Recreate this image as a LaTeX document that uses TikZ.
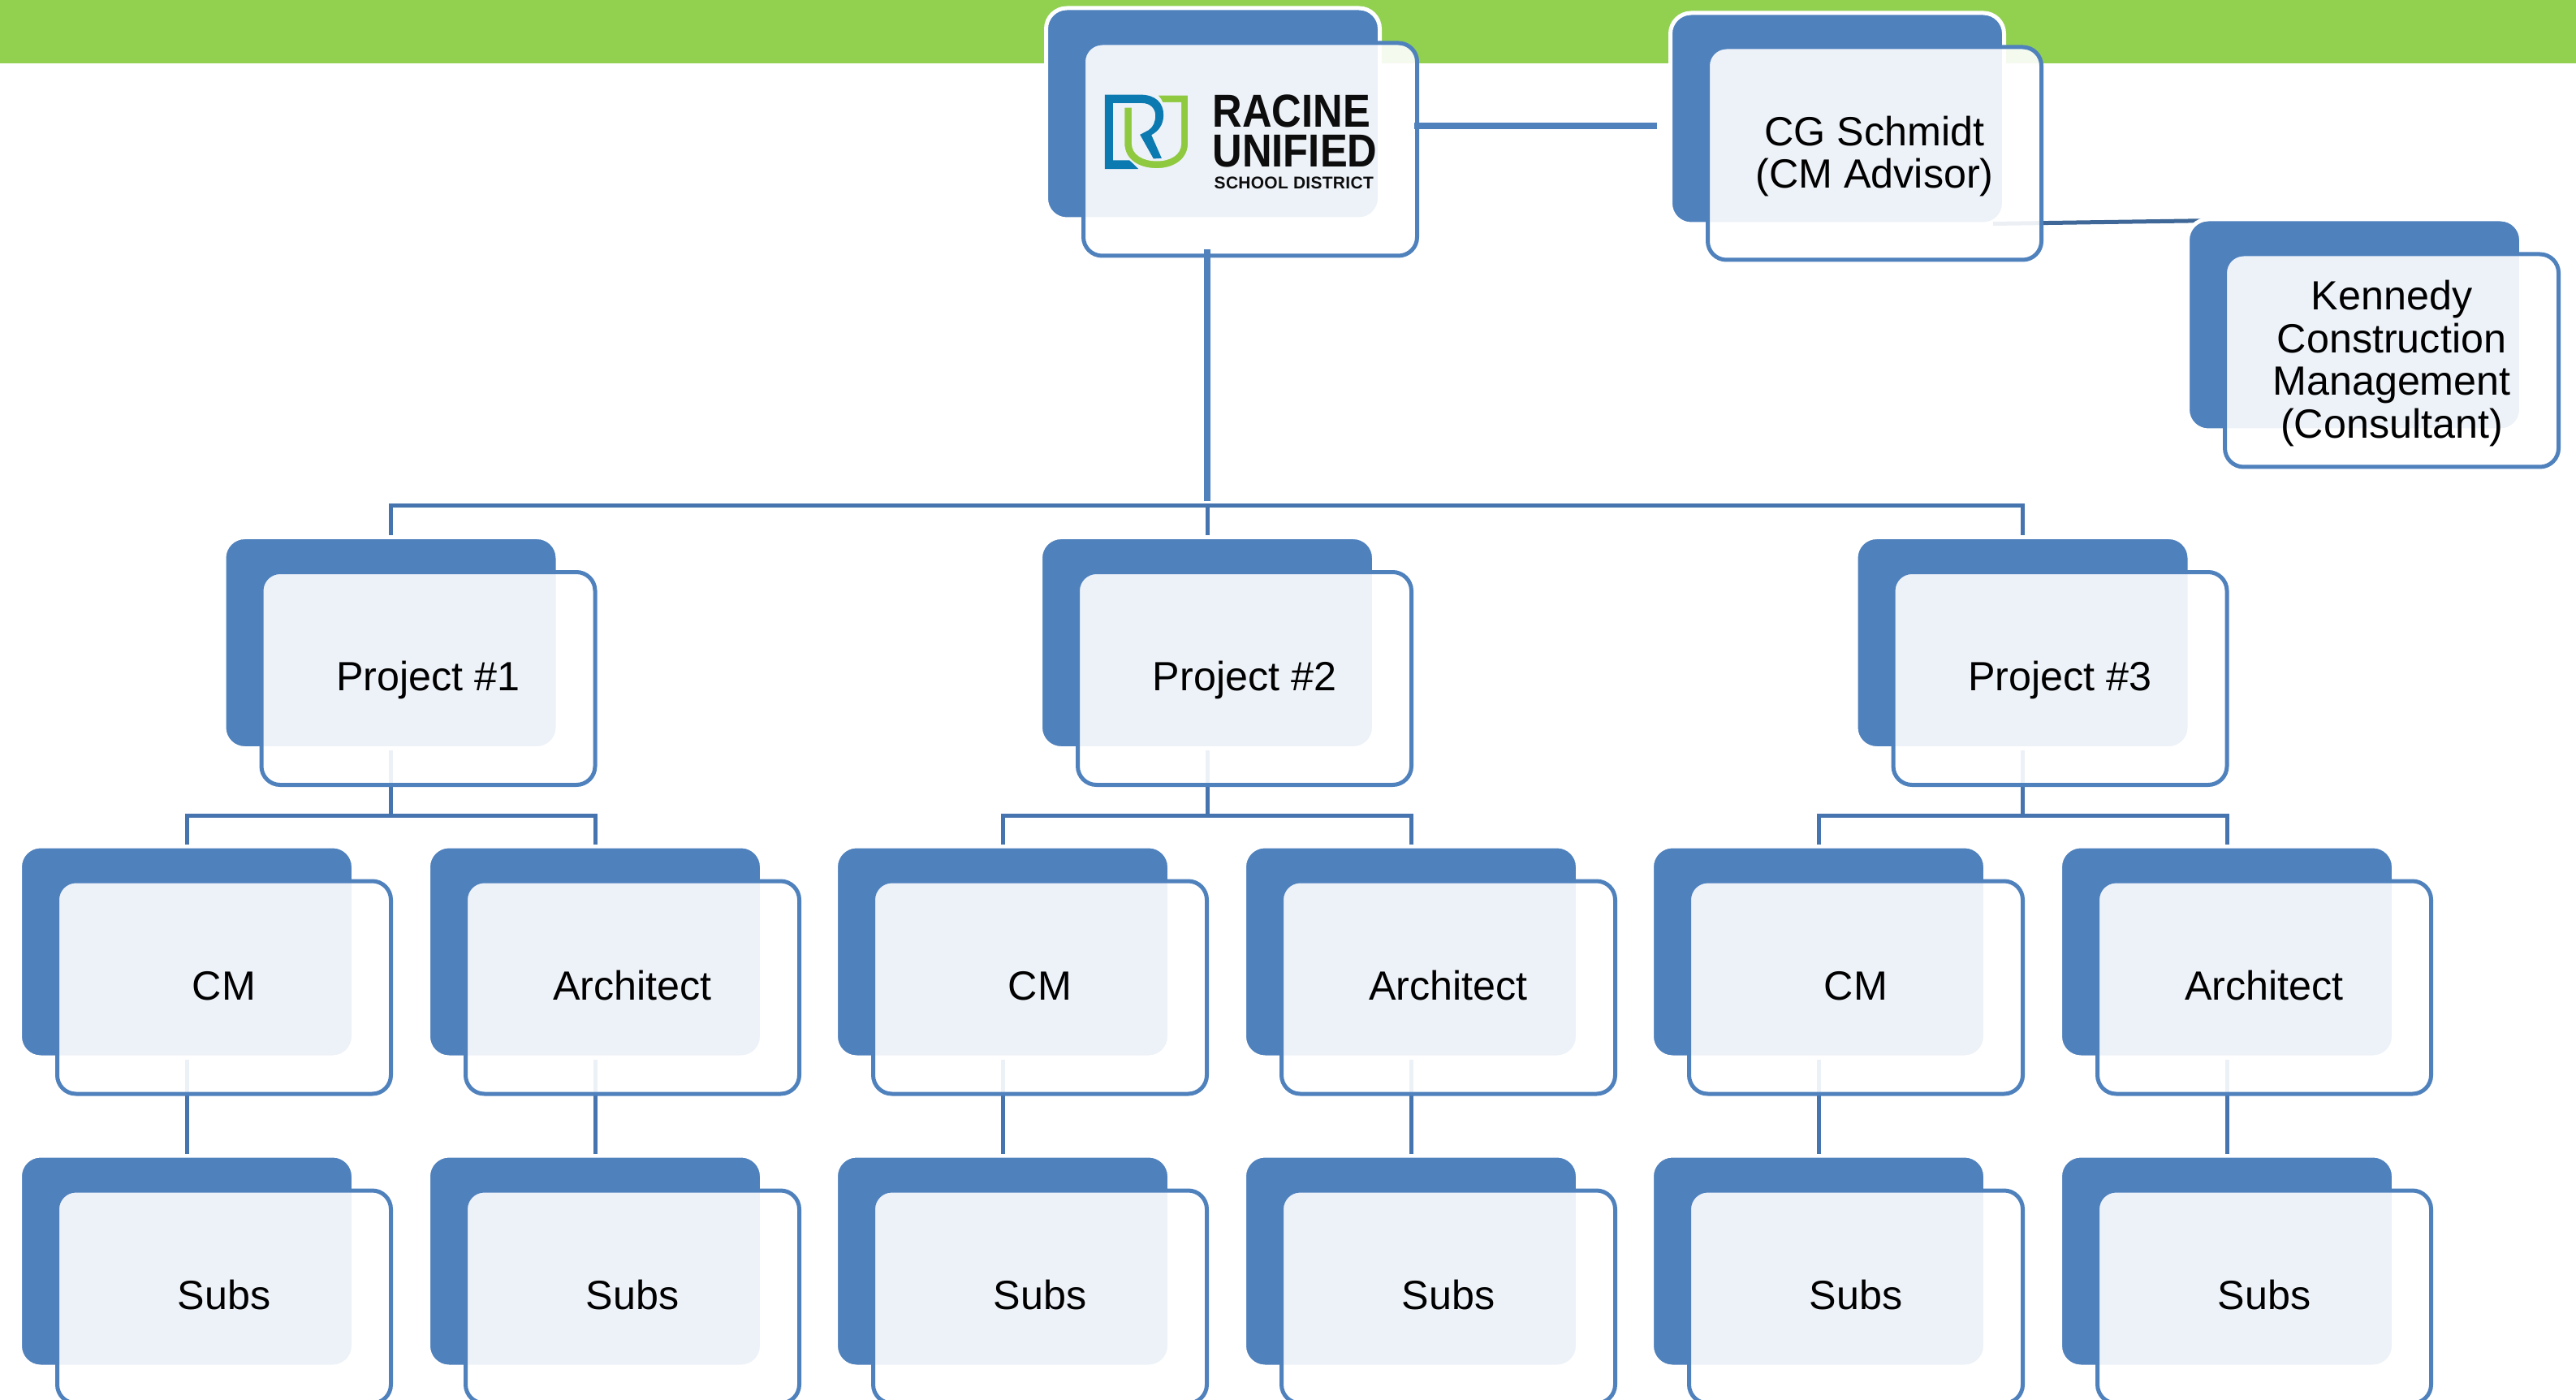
\documentclass[tikz,border=0pt]{standalone}
\usepackage{fontspec}
\setmainfont{Liberation Sans}
\newfontfamily\logofont[FakeStretch=0.89]{Liberation Sans}
\newfontfamily\logosmall[LetterSpace=1.5]{Liberation Sans}
\definecolor{boxblue}{HTML}{4F81BD}
\definecolor{wireblue}{HTML}{4674AF}
\definecolor{wiredark}{HTML}{3F6797}
\definecolor{bandgreen}{HTML}{92D050}
\definecolor{logoblue}{HTML}{0A7AB0}
\definecolor{logogreen}{HTML}{8FC93F}
\definecolor{boxpale}{HTML}{EDF2F8}
\tikzset{
   backbox/.style={rectangle, rounded corners=.255cm, minimum width=4.11cm, minimum height=2.60cm, fill=boxblue, draw=white, line width=.05cm},
   frontbox/.style={rectangle, rounded corners=.23cm, minimum width=4.11cm, minimum height=2.62cm, fill=white, fill opacity=.9, text opacity=1, draw=boxblue, line width=.05cm, align=center, font=\fontsize{14.3}{15}\selectfont},
   wire/.style={wireblue, line width=.05cm},
   thickwire/.style={boxblue, line width=.08cm},
   logotext/.style={anchor=base west, inner sep=0pt, text=black!95}
}

\begin{document}
\begin{tikzpicture}

   \path [use as bounding box, clip] (0,0) rectangle (31.73,-17.24);

   % top band
   \fill [bandgreen] (0,0) rectangle (31.73,-.78);

   % back boxes
   \foreach \n/\x/\y in {root/14.94/-1.40, cg/22.63/-1.46,
         p1/4.815/-7.915, p2/14.87/-7.915, p3/24.915/-7.915,
         c1/2.30/-11.72, c2/7.33/-11.72, c3/12.35/-11.72, c4/17.38/-11.72, c5/22.40/-11.72, c6/27.43/-11.72,
         s1/2.30/-15.53, s2/7.33/-15.53, s3/12.35/-15.53, s4/17.38/-15.53, s5/22.40/-15.53, s6/27.43/-15.53}
      \node [backbox] (\n b) at (\x,\y) {};

   % connectors
   \coordinate (busroot) at (14.87,-6.23);
   \draw [wire] (p1b.north) |- (busroot) -| (p3b.north);
   \draw [wire] (busroot) -- (p2b.north);
   \foreach \p/\l/\r in {p1/c1/c2, p2/c3/c4, p3/c5/c6}{
      \coordinate (bus\p) at (\p b.south |- 0,-10.04);
      \draw [wire] (\p b.south) -- (bus\p);
      \draw [wire] (\l b.north) |- (bus\p) -| (\r b.north);
   }
   \foreach \n in {1,...,6}
      \draw [wire] (c\n b.south) -- (s\n b.north);
   \coordinate (kenin) at (27.30,-2.715);
   \draw [wire, wiredark] ([xshift=-.16cm, yshift=.03cm]cgb.south east) -- (kenin);
   \node [backbox] (kenb) at (29.00,-4.00) {};

   % front boxes
   \foreach \n/\t in {root/{},
         p1/{Project \#1}, p2/{Project \#2}, p3/{Project \#3},
         c1/CM, c2/Architect, c3/CM, c4/Architect, c5/CM, c6/Architect,
         s1/Subs, s2/Subs, s3/Subs, s4/Subs, s5/Subs, s6/Subs}
      \node [frontbox, text height=12.94pt, text depth=4.2pt] (\n f) at ([shift={(.46,-.44)}]\n b) {\t};
   \node [frontbox, text depth=1pt] (cgf) at ([shift={(.46,-.43)}]cgb) {CG Schmidt\\(CM Advisor)};
   \node [frontbox, text depth=1pt] (kenf) at ([shift={(.46,-.44)}]kenb) {Kennedy\\Construction\\Management\\(Consultant)};

   % thick lines from the top box
   \coordinate (rootdrop) at (14.87,-3.07);
   \coordinate (busdrop) at (14.87,-6.17);
   \coordinate (rootout) at (17.42,-1.55);
   \coordinate (cgin) at (20.41,-1.55);
   \draw [thickwire] (rootdrop) -- (busdrop);
   \draw [thickwire] (rootout) -- (cgin);

   % logo
   \begin{scope}[shift={(13.5,-1.05)}, x=.01/3*1cm, y=-.01/3*1cm]
      \fill [logoblue] (33,35) -- (165,35) .. controls (220,35) and (250,65) .. (250,110)
         .. controls (250,145) and (232,170) .. (205,184) -- (243,270) -- (213,272) -- (163,183)
         -- (195,166) .. controls (212,155) and (220,135) .. (220,112) .. controls (220,85) and (200,66) .. (170,66)
         -- (63,66) -- (63,278) -- (125,278) -- (157,310) -- (33,310) -- cycle;
      \path [fill=logogreen, draw=boxpale, line width=.02cm] (220,35) -- (343,35) -- (343,215)
         .. controls (343,275) and (290,310) .. (225,310) .. controls (155,310) and (103,275) .. (103,215)
         -- (103,80) -- (135,80) -- (135,215) .. controls (135,255) and (175,278) .. (225,278)
         .. controls (275,278) and (313,255) .. (313,215) -- (313,66) -- (245,66)
         .. controls (240,52) and (232,42) .. (220,35) -- cycle;
   \end{scope}
   \node [logotext, font=\logofont\bfseries\fontsize{16.2}{16.2}\selectfont] (racine) at (14.93,-1.57) {RACINE};
   \node [logotext, font=\logofont\bfseries\fontsize{16.2}{16.2}\selectfont] (unified) at (14.93,-2.06) {UNIFIED};
   \node [logotext, font=\logosmall\bfseries\fontsize{5.96}{6}\selectfont] (district) at (14.95,-2.33) {SCHOOL DISTRICT};

\end{tikzpicture}
\end{document}
